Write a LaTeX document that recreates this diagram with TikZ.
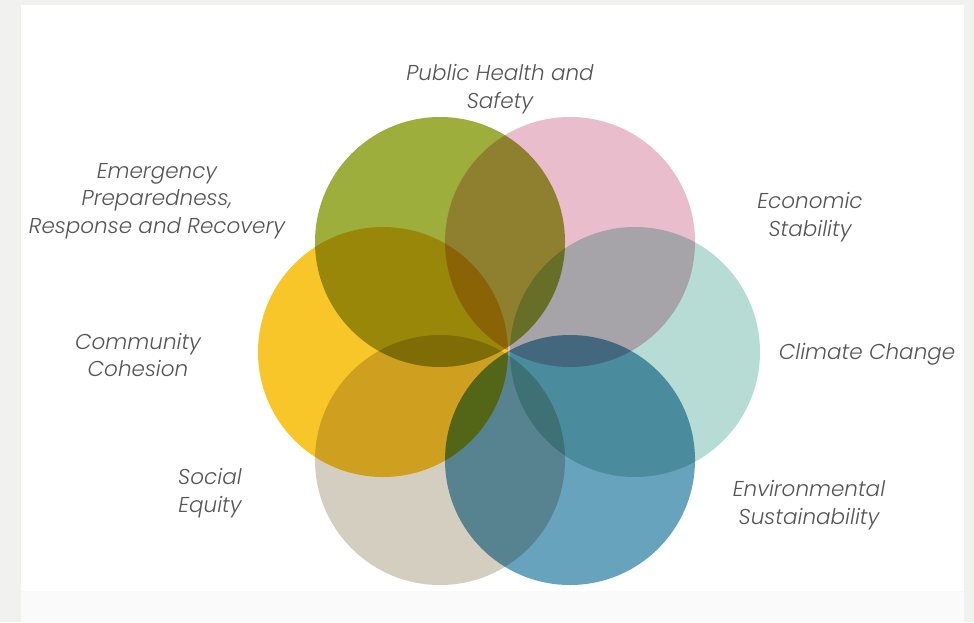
\documentclass[tikz,border=0pt]{standalone}
\usepackage{fontspec}
\newfontfamily\labelfont{Poppins}[UprightFont=* Light, ItalicFont=* Light Italic]
\usetikzlibrary{positioning}
\definecolor{frame}{HTML}{F1F1EF}
\definecolor{strip}{HTML}{FAFAFA}
\definecolor{greenc}{HTML}{9DAE3C}
\definecolor{pinkc}{HTML}{E9BDCB}
\definecolor{tealc}{HTML}{B6DCD5}
\definecolor{bluec}{HTML}{68A3BE}
\definecolor{beigec}{HTML}{D4CEC0}
\definecolor{yellowc}{HTML}{F9C62A}
\definecolor{textc}{HTML}{555555}
\begin{document}
\begin{tikzpicture}[x=1pt, y=-1pt,
  disc/.style={circle, minimum size=250pt, inner sep=0pt, blend mode=multiply},
  label/.style={align=center, text=textc, font=\labelfont\itshape\fontsize{21.5}{27.5}\selectfont}]
  \fill[frame] (0,0) rectangle (974,622);
  \fill[white] (21,5) rectangle (964,591);
  \fill[strip] (21,591) rectangle (964,622);
  \useasboundingbox (0,0) rectangle (974,622);
  \node[disc, fill=greenc]  (c-health) at (440,242) {};
  \node[disc, fill=pinkc]   (c-economy) at (570,242) {};
  \node[disc, fill=tealc]   (c-climate) at (635,352) {};
  \node[disc, fill=bluec]   (c-environment) at (570,460) {};
  \node[disc, fill=beigec]  (c-equity) at (440,460) {};
  \node[disc, fill=yellowc] (c-cohesion) at (383,352) {};
  \node[label] (l-health) at (500,89) {Public Health and\\Safety};
  \node[label] (l-emergency) at (157,201) {Emergency\\Preparedness,\\Response and Recovery};
  \node[label] (l-economy) at (810,217) {Economic\\Stability};
  \node[label] (l-climate) at (867,354) {Climate Change};
  \node[label] (l-cohesion) at (138,355) {Community\\Cohesion};
  \node[label] (l-equity) at (210,493) {Social\\Equity};
  \node[label] (l-environment) at (809,505) {Environmental\\Sustainability};
\end{tikzpicture}
\end{document}
